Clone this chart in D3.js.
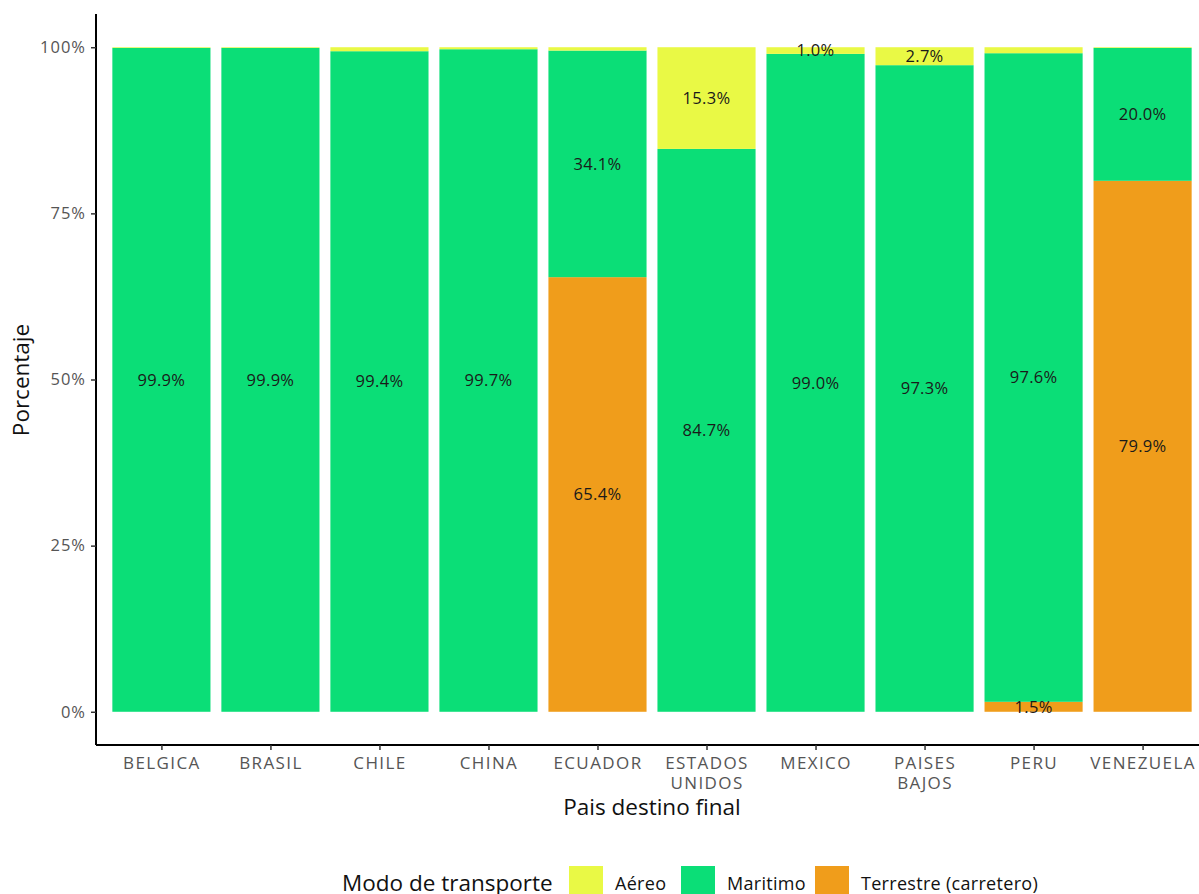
<!DOCTYPE html>
<html>
<head>
<meta charset="utf-8">
<script src="https://cdn.jsdelivr.net/npm/d3@7"></script>
<style>
  body { margin: 0; background: #fff; }
  svg { display: block; font-family: "Open Sans", "Lato", sans-serif; }
</style>
</head>
<body>
<svg id="chart" width="1199" height="894"></svg>
<script>
const categories = ["BELGICA", "BRASIL", "CHILE", "CHINA", "ECUADOR", "ESTADOS UNIDOS", "MEXICO", "PAISES BAJOS", "PERU", "VENEZUELA"];
const terrestre = [0.0, 0.0, 0.0, 0.0, 65.4, 0.0, 0.0, 0.0, 1.5, 79.9];
const maritimo  = [99.9, 99.9, 99.4, 99.7, 34.1, 84.7, 99.0, 97.3, 97.6, 20.0];
const aereo     = [0.1, 0.1, 0.6, 0.3, 0.5, 15.3, 1.0, 2.7, 0.9, 0.1];
const seriesNames = ["Terrestre (carretero)", "Maritimo", "Aéreo"];
const legendOrder = ["Aéreo", "Maritimo", "Terrestre (carretero)"];
const yTicks = [0, 0.25, 0.5, 0.75, 1];
const colors = {"Aéreo": "#e9f945", "Maritimo": "#0bde77", "Terrestre (carretero)": "#f09d1b"};

(function () {
const svg = d3.select("#chart");
const pLeft = 96, pRight = 1208, pTop = 14, pBottom = 745;
const FONT = "'Open Sans', sans-serif";

const x = d3.scaleLinear().domain([0.4, categories.length + 0.6]).range([pLeft, pRight]);
const y = d3.scaleLinear().domain([-0.05, 1.05]).range([pBottom, pTop]);

const rows = categories.map((c, i) => ({cat: c, i: i + 1,
  "Terrestre (carretero)": terrestre[i], "Maritimo": maritimo[i], "Aéreo": aereo[i]}));
rows.forEach(r => { r.total = seriesNames.reduce((s, k) => s + r[k], 0); });

const stack = d3.stack().keys(seriesNames).value((d, k) => d[k] / d.total);
const stacked = stack(rows);

const g = svg.append("g");
stacked.forEach(layer => {
  g.selectAll(null).data(layer).join("rect")
    .attr("x", d => x(d.data.i - 0.45))
    .attr("width", x(1.45) - x(0.55))
    .attr("y", d => y(d[1]))
    .attr("height", d => Math.max(0, y(d[0]) - y(d[1])))
    .attr("fill", colors[layer.key]);
});

stacked.forEach(layer => {
  g.selectAll(null).data(layer.filter(d => d.data[layer.key] >= 1)).join("text")
    .attr("x", d => x(d.data.i))
    .attr("y", d => y((d[0] + d[1]) / 2))
    .attr("dy", "0.35em")
    .attr("text-anchor", "middle")
    .attr("font-size", 16.5)
    .attr("letter-spacing", 0.3)
    .attr("fill", "#1a1a1a")
    .text(d => d.data[layer.key].toFixed(1) + "%");
});

const yAxis = d3.axisLeft(y).tickValues(yTicks).tickFormat(d3.format(".0%")).tickSize(5).tickPadding(5);
const ya = svg.append("g").attr("transform", `translate(${pLeft},0)`).call(yAxis);
ya.select(".domain").attr("d", `M0,${pTop}V${pBottom}`).attr("stroke", "#000").attr("stroke-width", 2);
ya.selectAll(".tick line").attr("stroke", "#333").attr("stroke-width", 1.5);
ya.selectAll(".tick text").attr("font-size", 16.5).attr("letter-spacing", 1).attr("fill", "#555").attr("font-family", FONT);

const xAxis = d3.axisBottom(x).tickValues(d3.range(1, categories.length + 1)).tickFormat(() => "").tickSize(5);
const xa = svg.append("g").attr("transform", `translate(0,${pBottom})`).call(xAxis);
xa.select(".domain").attr("d", `M${pLeft},0H${pRight}`).attr("stroke", "#000").attr("stroke-width", 2);
xa.selectAll(".tick line").attr("stroke", "#333").attr("stroke-width", 1.5);
xa.selectAll(".tick").each(function(d) {
  const words = categories[d - 1].split(" ");
  const t = d3.select(this).append("text")
    .attr("text-anchor", "middle").attr("font-size", 17).attr("letter-spacing", 1.4).attr("fill", "#555")
    .attr("font-family", FONT);
  words.forEach((w, k) => t.append("tspan").attr("x", 0).attr("y", 24 + k * 20).text(w));
});

svg.append("text").attr("x", 652).attr("y", 815).attr("text-anchor", "middle")
  .attr("font-size", 22.5).attr("fill", "#111").text("Pais destino final");
svg.append("text").attr("transform", `translate(29,380) rotate(-90)`).attr("text-anchor", "middle")
  .attr("font-size", 22.5).attr("fill", "#111").text("Porcentaje");

const lg = svg.append("g");
lg.append("text").attr("x", 342).attr("y", 891).attr("font-size", 22.5).attr("fill", "#111").text("Modo de transporte");
const keyX = [569, 681, 815];
legendOrder.forEach((k, i) => {
  lg.append("rect").attr("x", keyX[i]).attr("y", 866).attr("width", 34).attr("height", 34).attr("fill", colors[k]);
  lg.append("text").attr("x", keyX[i] + 46).attr("y", 890).attr("font-size", 18).attr("letter-spacing", 0.3).attr("fill", "#111").text(k);
});
})();
</script>
</body>
</html>
